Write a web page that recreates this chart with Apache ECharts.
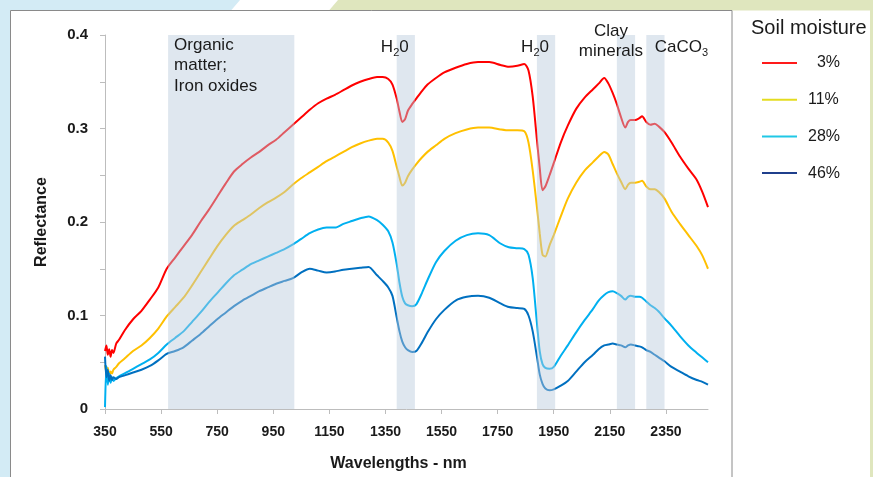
<!DOCTYPE html>
<html>
<head>
<meta charset="utf-8">
<title>Soil reflectance spectra</title>
<script src="https://cdn.jsdelivr.net/npm/echarts@6/dist/echarts.min.js"></script>
<style>
  html, body { margin: 0; padding: 0; background: #fff; }
</style>
</head>
<body>
<div id="main" style="width:873px;height:477px;"></div>
<script type="text/javascript">
// wavelengths (nm), shared by all four curves
var wl = [350,355,360,365,370,375,380,390,400,
  420,450,480,510,540,570,600,630,660,690,720,750,780,810,840,870,900,930,960,990,
  1020,1050,1080,1110,1140,1170,1200,1230,1260,1290,
  1320,1340,1360,1375,1390,1400,1410,1420,1430,1445,1460,1480,1500,
  1530,1560,1600,1640,1680,1720,1760,1790,1820,1845,
  1860,1875,1890,1900,1910,1920,1935,1950,1975,2000,
  2030,2060,2090,2110,2130,2145,2160,2175,2190,2205,
  2215,2225,2240,2255,2265,2280,2295,2310,2325,2345,
  2370,2400,2430,2460,2480,2500];

var moist3 = [0.062,0.068,0.058,0.064,0.056,0.063,0.060,0.070,0.074,
  0.084,0.096,0.105,0.117,0.130,0.150,0.162,0.174,0.186,0.200,0.213,0.227,0.241,0.254,0.262,0.269,0.275,0.282,0.288,0.296,
  0.304,0.312,0.320,0.327,0.332,0.336,0.341,0.346,0.350,0.353,
  0.355,0.355,0.353,0.347,0.332,0.318,0.307,0.310,0.319,0.326,0.332,0.340,0.347,
  0.354,0.360,0.365,0.369,0.371,0.371,0.368,0.366,0.367,0.369,
  0.362,0.334,0.288,0.258,0.234,0.238,0.250,0.263,0.285,0.303,
  0.321,0.333,0.342,0.348,0.354,0.348,0.338,0.326,0.312,0.301,
  0.307,0.309,0.309,0.311,0.313,0.307,0.304,0.305,0.302,0.296,
  0.285,0.270,0.257,0.245,0.232,0.216];

var moist11 = [0.047,0.040,0.044,0.036,0.040,0.038,0.042,0.045,0.049,
  0.054,0.062,0.068,0.076,0.086,0.099,0.109,0.119,0.132,0.146,0.160,0.174,0.186,0.196,0.202,0.208,0.215,0.221,0.226,0.232,
  0.240,0.247,0.253,0.259,0.265,0.270,0.275,0.280,0.284,0.287,
  0.289,0.289,0.285,0.276,0.259,0.248,0.239,0.242,0.249,0.256,0.262,0.269,0.275,
  0.282,0.289,0.295,0.299,0.301,0.301,0.299,0.298,0.298,0.297,
  0.285,0.255,0.216,0.188,0.165,0.163,0.175,0.186,0.206,0.225,
  0.242,0.255,0.264,0.270,0.275,0.272,0.262,0.252,0.243,0.235,
  0.240,0.242,0.242,0.243,0.244,0.238,0.235,0.235,0.232,0.225,
  0.211,0.198,0.186,0.174,0.164,0.150];

var moist28 = [0.002,0.046,0.026,0.038,0.028,0.034,0.030,0.033,0.035,
  0.038,0.043,0.048,0.053,0.060,0.069,0.076,0.083,0.093,0.103,0.114,0.124,0.134,0.143,0.149,0.155,0.159,0.163,0.167,0.171,
  0.176,0.182,0.188,0.192,0.194,0.194,0.198,0.201,0.204,0.206,
  0.202,0.197,0.190,0.178,0.155,0.135,0.120,0.113,0.111,0.110,0.112,0.124,0.138,
  0.157,0.169,0.180,0.186,0.188,0.186,0.177,0.173,0.172,0.171,
  0.165,0.140,0.092,0.062,0.048,0.044,0.043,0.045,0.057,0.068,
  0.082,0.095,0.107,0.116,0.122,0.125,0.126,0.124,0.121,0.117,
  0.120,0.121,0.120,0.120,0.119,0.115,0.111,0.108,0.104,0.097,
  0.089,0.078,0.068,0.060,0.055,0.050];

var moist46 = [0.056,0.034,0.042,0.030,0.036,0.031,0.034,0.032,0.034,
  0.036,0.039,0.042,0.046,0.052,0.059,0.062,0.066,0.073,0.080,0.088,0.096,0.103,0.110,0.116,0.121,0.126,0.130,0.134,0.137,
  0.140,0.146,0.150,0.148,0.146,0.147,0.149,0.150,0.151,0.152,
  0.143,0.137,0.130,0.121,0.098,0.083,0.072,0.066,0.063,0.061,0.062,0.071,0.082,
  0.096,0.106,0.116,0.120,0.121,0.119,0.113,0.109,0.108,0.107,
  0.100,0.083,0.056,0.037,0.027,0.022,0.020,0.021,0.025,0.030,
  0.040,0.050,0.058,0.064,0.068,0.069,0.070,0.069,0.068,0.066,
  0.068,0.069,0.068,0.067,0.066,0.063,0.061,0.058,0.055,0.051,
  0.045,0.040,0.035,0.031,0.029,0.026];

var seriesNames = ['3%', '11%', '28%', '46%'];
var lineColors = ['#ff0000', '#ffc000', '#00b0f0', '#0070c0'];
var legendColors = ['#ff1a1a', '#e4dc20', '#20c8e6', '#1f3f8c'];

// absorption bands [start nm, end nm]
var bands = [[575, 1025], [1390, 1455], [1890, 1955], [2175, 2240], [2280, 2345]];
var bandLabels = ['Organic\nmatter;\nIron oxides', 'H{s|2}0', 'H{s|2}0', 'Clay\nminerals', 'CaCO{s|3}'];
var bandTop = 0.405;

var xTicks = [350, 550, 750, 950, 1150, 1350, 1550, 1750, 1950, 2150, 2350];
var yTicks = [0, 0.05, 0.1, 0.15, 0.2, 0.25, 0.3, 0.35, 0.4];
var yLabels = [0, 0.1, 0.2, 0.3, 0.4];

var FONT = '"Liberation Sans", Arial, sans-serif';
var values = [moist3, moist11, moist28, moist46];

var series = values.map(function (v, k) {
    return {
        name: seriesNames[k],
        type: 'line',
        data: wl.map(function (w, i) { return [w, v[i]]; }),
        showSymbol: false,
        symbol: 'none',
        smooth: 0.25,
        z: 2,
        lineStyle: { color: lineColors[k], width: 2 },
        itemStyle: { color: lineColors[k] }
    };
});

var labelPos = [
    { position: 'insideTopLeft', offset: [1, -5] },
    { position: 'insideTop', offset: [-11, -4] },
    { position: 'insideTop', offset: [-11, -4] },
    { position: 'insideTop', offset: [-15, -19], lineHeight: 20 },
    { position: 'insideTop', offset: [26, -4] }
];

series.push({
    name: 'bands',
    type: 'line',
    data: [],
    z: 5,
    markArea: {
        silent: true,
        z: 5,
        itemStyle: { color: 'rgba(183,201,219,0.45)' },
        data: bands.map(function (b, i) {
            var p = labelPos[i];
            return [{
                xAxis: b[0], yAxis: 0,
                label: {
                    show: true,
                    formatter: bandLabels[i],
                    position: p.position,
                    offset: p.offset,
                    color: '#1a1a1a',
                    fontFamily: FONT,
                    fontSize: 17,
                    lineHeight: p.lineHeight || (i === 0 ? 20.5 : 22),
                    align: i === 0 ? 'left' : 'center',
                    rich: {
                        s: { fontSize: 11, lineHeight: 11, verticalAlign: 'bottom', color: '#1a1a1a', fontFamily: FONT }
                    }
                }
            }, { xAxis: b[1], yAxis: bandTop }];
        })
    }
});

var mychart = echarts.init(document.getElementById('main'));
var option = {
    animation: false,
    backgroundColor: '#ffffff',
    graphic: [
        { type: 'polygon', z: -1, silent: true,
          shape: { points: [[0, 0], [240, 0], [231, 10.5], [10, 10.5], [10, 477], [0, 477]] },
          style: { fill: '#d3ebf5' } },
        { type: 'polygon', z: -1, silent: true,
          shape: { points: [[338, 0], [873, 0], [873, 477], [870, 477], [870, 10.5], [329, 10.5]] },
          style: { fill: '#dfe6be' } },
        { type: 'rect', z: -1, silent: true,
          shape: { x: 10.5, y: 10.5, width: 721.5, height: 480 },
          style: { fill: null, stroke: '#8a8a8a', lineWidth: 1 } }
    ],
    title: {
        text: 'Soil moisture',
        left: 751,
        top: 18,
        padding: 0,
        textStyle: { fontFamily: FONT, fontSize: 20, fontWeight: 'normal', color: '#1a1a1a' }
    },
    legend: {
        orient: 'vertical',
        left: 762,
        top: 55,
        itemWidth: 35,
        itemHeight: 2,
        itemGap: 20.7,
        padding: 0,
        icon: 'rect',
        formatter: function (name) { return name.length < 3 ? '  ' + name : name; },
        textStyle: { fontFamily: FONT, fontSize: 16, color: '#1a1a1a', padding: [0, 0, 0, 6] },
        data: seriesNames.map(function (n, k) {
            return { name: n, lineStyle: { color: legendColors[k], width: 2 }, itemStyle: { color: legendColors[k] } };
        })
    },
    grid: { left: 105, right: 165, top: 35, bottom: 67 },
    xAxis: {
        type: 'value',
        min: 350,
        max: 2500,
        name: 'Wavelengths - nm',
        nameLocation: 'middle',
        nameGap: 47,
        nameTextStyle: { fontFamily: FONT, fontSize: 16, fontWeight: 'bold', color: '#1a1a1a', padding: [0, 16, 0, 0] },
        axisLine: { show: true, lineStyle: { color: '#bdbdbd', width: 1 } },
        axisTick: { show: true, length: 5, customValues: xTicks, lineStyle: { color: '#bdbdbd' } },
        axisLabel: {
            customValues: xTicks,
            margin: 16,
            formatter: function (v) { return String(v); },
            fontFamily: FONT, fontSize: 14, fontWeight: 'bold', color: '#1a1a1a'
        },
        splitLine: { show: false }
    },
    yAxis: {
        type: 'value',
        min: 0,
        max: 0.4,
        name: 'Reflectance',
        nameLocation: 'middle',
        nameGap: 55,
        nameTextStyle: { fontFamily: FONT, fontSize: 16, fontWeight: 'bold', color: '#1a1a1a' },
        axisLine: { show: true, lineStyle: { color: '#bdbdbd', width: 1 } },
        axisTick: { show: true, length: 5, customValues: yTicks, lineStyle: { color: '#bdbdbd' } },
        axisLabel: {
            customValues: yLabels,
            margin: 17,
            formatter: function (v) { return v === 0 ? '0' : v.toFixed(1); },
            fontFamily: FONT, fontSize: 15, fontWeight: 'bold', color: '#1a1a1a'
        },
        splitLine: { show: false }
    },
    series: series
};
mychart.setOption(option);
</script>
</body>
</html>
